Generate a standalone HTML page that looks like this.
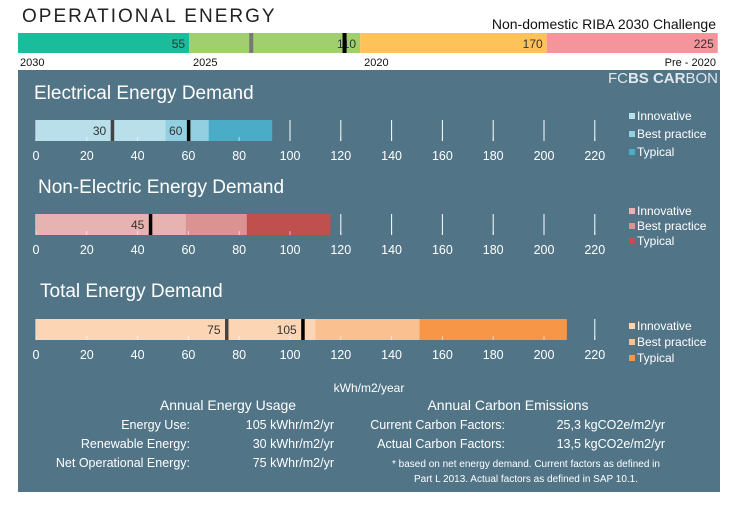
<!DOCTYPE html>
<html><head><meta charset="utf-8"><style>
body{margin:0;background:#fff;font-family:"Liberation Sans",Arial,sans-serif;}
svg{display:block}
</style></head><body>
<svg id="c" width="738" height="509" xmlns="http://www.w3.org/2000/svg" font-family="Liberation Sans, Arial, sans-serif">
<text x="22" y="22" font-size="19" letter-spacing="2" fill="#222">OPERATIONAL ENERGY</text>
<text x="716" y="29" font-size="14" text-anchor="end" fill="#111">Non-domestic RIBA 2030 Challenge</text>
<g id="riba"></g>
<rect x="18" y="70" width="702" height="422" fill="#517487"/>
<text x="718" y="83" font-size="15" text-anchor="end" fill="#dfe8ee">FC<tspan font-weight="bold">BS CAR</tspan>BON</text>
<g id="charts"></g>
<g fill="#fff" font-size="12.5">
<text x="369" y="392" text-anchor="middle" font-size="12">kWh/m2/year</text>
<text x="228" y="410" text-anchor="middle" font-size="14">Annual Energy Usage</text>
<text x="508" y="410" text-anchor="middle" font-size="14">Annual Carbon Emissions</text>
<text x="190" y="429" text-anchor="end">Energy Use:</text>
<text x="190" y="448" text-anchor="end">Renewable Energy:</text>
<text x="190" y="467" text-anchor="end">Net Operational Energy:</text>
<text x="334" y="429" text-anchor="end">105  kWhr/m2/yr</text>
<text x="334" y="448" text-anchor="end">30  kWhr/m2/yr</text>
<text x="334" y="467" text-anchor="end">75  kWhr/m2/yr</text>
<text x="505" y="429" text-anchor="end">Current Carbon Factors:</text>
<text x="505" y="448" text-anchor="end">Actual Carbon Factors:</text>
<text x="665" y="429" text-anchor="end">25,3  kgCO2e/m2/yr</text>
<text x="665" y="448" text-anchor="end">13,5  kgCO2e/m2/yr</text>
<text x="526" y="467" text-anchor="middle" font-size="10">* based on net energy demand. Current factors as defined in</text>
<text x="526" y="482" text-anchor="middle" font-size="10">Part L 2013. Actual factors as defined in SAP 10.1.</text>
</g>
</svg>
<script>
const ns="http://www.w3.org/2000/svg";
function mk(p,t,a){const e=document.createElementNS(ns,t);for(const k in a)e.setAttribute(k,a[k]);p.appendChild(e);return e;}
// RIBA scale data
const ribaBands=[55,110,170,225];
const ribaColors=["#1abc9c","#a0cf6e","#fdc35a","#f4959c"];
const ribaYears=["2030","2025","2020","Pre - 2020"];
const ribaMarkers=[75,105];
const rx=v=>18+v*3.11;
const rg=document.getElementById('riba');
let prev=0;
ribaBands.forEach((v,i)=>{
 const r=mk(rg,'rect',{x:rx(prev),y:33,width:rx(v)-rx(prev),height:20,fill:ribaColors[i]});
 
 
 const t=mk(rg,'text',{x:rx(v)-4,y:48,'font-size':12,'text-anchor':'end',fill:'#333'});t.textContent=v;
 
 
 prev=v;
});
ribaYears.forEach((y,i)=>{
 const x=i==3?716:(i==0?20:rx(ribaBands[i-1])+4);
 const t=mk(rg,'text',{x:x,y:66,'font-size':11,fill:'#111','text-anchor':i==3?'end':'start'});t.textContent=y;
 
 
});
ribaMarkers.forEach((m,i)=>{
 const r=mk(rg,'rect',{x:rx(m)-2,y:33,width:4,height:20,fill:i?'#000':'#777'});
 
 
});
// Charts data
const chartTitles=["Electrical Energy Demand","Non-Electric Energy Demand","Total Energy Demand"];
const seriesNames=["Innovative","Best practice","Typical"];
const elecValues=[51,68,93];
const nonElecValues=[59,83,116];
const totalValues=[110,151,209];
const elecMarkers=[30,60];
const nonElecMarkers=[45];
const totalMarkers=[75,105];
const ticks=[0,20,40,60,80,100,120,140,160,180,200,220];
const palettes=[["#b9dfea","#92cfe0","#4bacc8"],["#e6b3b1","#da9391","#c0504d"],["#fcd5b5","#fac08f","#f79646"]];
const x=v=>36+v*2.54;
const layout=[{ty:99,by:120,ly:120,lg:18,tx:34},{ty:193,by:214,ly:215,lg:15,tx:38},{ty:297,by:319,ly:330,lg:16,tx:40}];
const allVals=[elecValues,nonElecValues,totalValues], allMk=[elecMarkers,nonElecMarkers,totalMarkers];
const cg=document.getElementById('charts');
layout.forEach((L,ci)=>{
 const g=mk(cg,'g',{});
 
 
 const tt=mk(g,'text',{x:L.tx,y:L.ty,'font-size':19,fill:'#fff'});tt.textContent=chartTitles[ci];
 
 
 ticks.forEach(t=>{
  const l=mk(g,'line',{x1:x(t),x2:x(t),y1:L.by,y2:L.by+21,stroke:'#fff','stroke-width':1});
  
  
  const tx=mk(g,'text',{x:x(t),y:L.by+40,'font-size':12.5,'text-anchor':'middle',fill:'#fff'});tx.textContent=t;
  
  
 });
 const vals=allVals[ci];
 for(let i=vals.length-1;i>=0;i--){
  const r=mk(g,'rect',{x:x(0),y:L.by,width:x(vals[i])-x(0),height:21,fill:palettes[ci][i]});
  
  
 }
 ticks.forEach(t=>{const l=mk(g,'line',{x1:x(t),x2:x(t),y1:L.by+17,y2:L.by+21,stroke:'#fff','stroke-opacity':0.6});
  
  });
 const mks=allMk[ci];
 mks.forEach((m,i)=>{
  const r=mk(g,'rect',{x:x(m)-1.5,y:L.by,width:3.5,height:21,fill:(i==mks.length-1)?'#000':'#444'});
  
  
  const t=mk(g,'text',{x:x(m)-6,y:L.by+15,'font-size':12,'text-anchor':'end',fill:'#333'});t.textContent=m;
  
  
 });
 seriesNames.forEach((s,i)=>{
  const ly=L.ly+i*L.lg;
  const r=mk(g,'rect',{x:629,y:ly-7,width:6,height:6,fill:palettes[ci][i]});
  
  
  const t=mk(g,'text',{x:637,y:ly,'font-size':12,fill:'#fff'});t.textContent=s;
  
  
 });
});
</script>
</body></html>
